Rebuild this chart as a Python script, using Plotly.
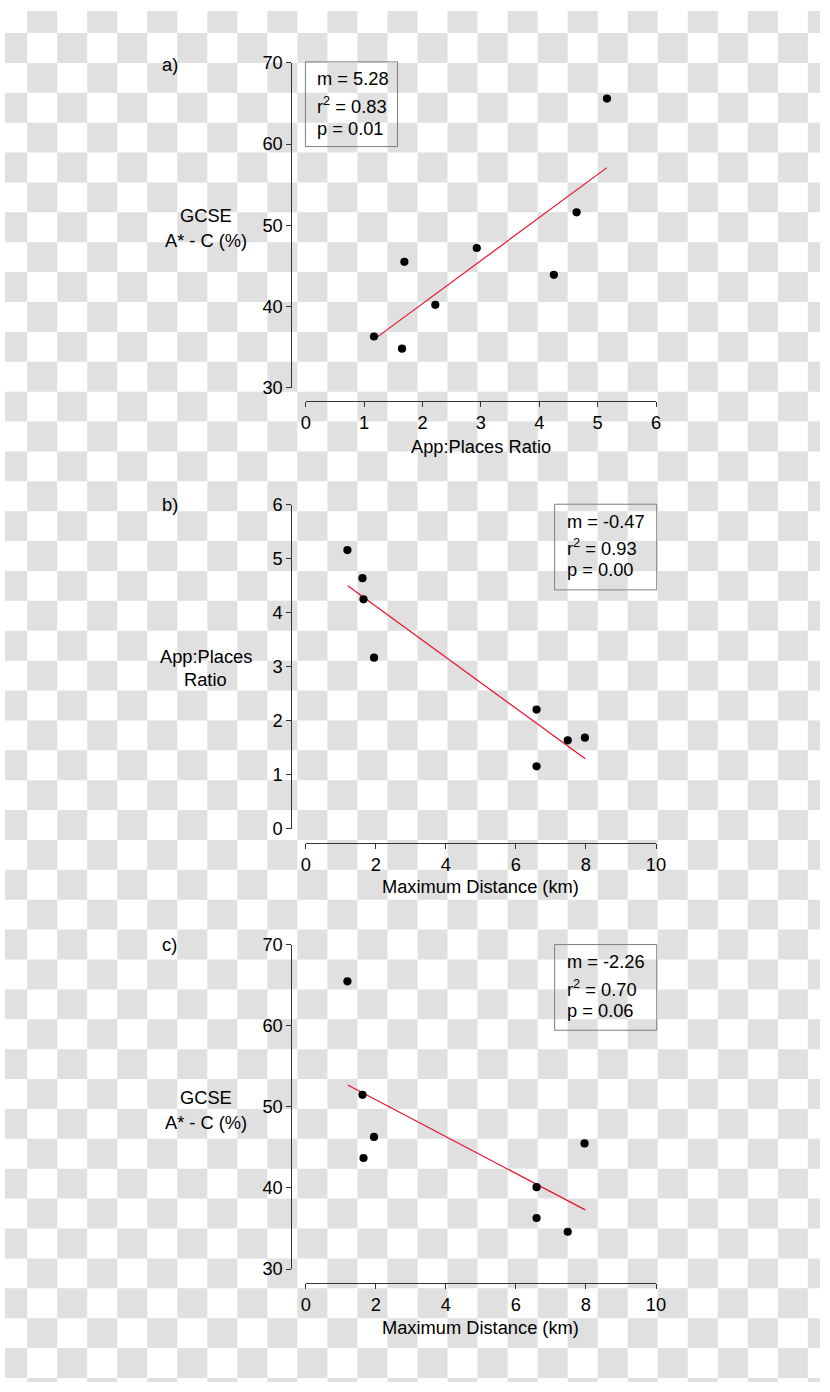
import plotly.graph_objects as go

# ---------------- data ----------------
ratio_a = [1.17, 1.65, 1.69, 2.22, 2.93, 4.25, 4.64, 5.16]
gcse_a = [36.3, 34.8, 45.5, 40.2, 47.2, 43.9, 51.6, 65.6]
fit_a_x = [1.2, 5.16]
fit_a_y = [36.1, 57.1]

dist_b = [1.19, 1.62, 1.65, 1.95, 6.59, 7.48, 7.97, 6.59]
ratio_b = [5.16, 4.64, 4.25, 3.17, 2.21, 1.64, 1.69, 1.16]
fit_b_x = [1.2, 7.98]
fit_b_y = [4.50, 1.30]

dist_c = [1.19, 1.62, 1.95, 1.65, 6.59, 6.59, 7.48, 7.96]
gcse_c = [65.5, 51.5, 46.3, 43.7, 40.1, 36.3, 34.6, 45.5]
fit_c_x = [1.2, 7.98]
fit_c_y = [52.7, 37.3]

stats_a = ["m = 5.28", "r<sup>2</sup> = 0.83", "p = 0.01"]
stats_b = ["m = -0.47", "r<sup>2</sup> = 0.93", "p = 0.00"]
stats_c = ["m = -2.26", "r<sup>2</sup> = 0.70", "p = 0.06"]

W, H = 830, 1392
MARGIN = 8  # default page body margin around the figure
SX = W / (W + 2 * MARGIN)
SY = H / (H + 2 * MARGIN)
FONT = "Liberation Sans, Arial, sans-serif"
FS = 18 / ((SX + SY) / 2)


def px(x):
    """final picture x-pixel -> paper fraction"""
    return (x / SX - MARGIN) / W


def py(y):
    """final picture y-pixel -> paper fraction"""
    return 1 - (y / SY - MARGIN) / H


fig = go.Figure()

# checkerboard background (30 px squares in the final picture)
parts = []
S = 30
for r in range(H // S + 1):
    for c in range(W // S + 1):
        if (r + c) % 2 == 1:
            x0, x1 = px(c * S), px((c + 1) * S)
            y0, y1 = py(r * S), py((r + 1) * S)
            x0, x1 = max(x0, 0), min(x1, 1)
            y0, y1 = min(y0, 1), max(y1, 0)
            if x1 <= x0 or y0 <= y1:
                continue
            parts.append(f"M{x0:.5f},{y0:.5f}H{x1:.5f}V{y1:.5f}H{x0:.5f}Z")
shapes = [dict(type="path", xref="paper", yref="paper", path="".join(parts),
               fillcolor="#e0e0e0", line=dict(width=0), layer="below")]

panels = [
    dict(x=ratio_a, y=gcse_a, fx=fit_a_x, fy=fit_a_y, xr=[0, 6], xd=1, yr=[30, 70], yd=10,
         ytop=60, ybot=386, xaxis_y=399, stats=stats_a,
         box=(308, 59, 400, 144), stat_y=[76, 102.5, 126], stat_x=318,
         lab="a)", lab_y=61.5, ytitle=["GCSE", "A* - C (%)"], yt_y=[213, 238],
         xtitle="App:Places Ratio", xt_y=445),
    dict(x=dist_b, y=ratio_b, fx=fit_b_x, fy=fit_b_y, xr=[0, 10], xd=2, yr=[0, 6], yd=1,
         ytop=503.5, ybot=829, xaxis_y=842.7, stats=stats_b,
         box=(557, 503, 659, 589), stat_y=[520, 546, 568.5], stat_x=567,
         lab="b)", lab_y=503.5, ytitle=["App:Places", "Ratio"], yt_y=[655.5, 679],
         xtitle="Maximum Distance (km)", xt_y=886.5),
    dict(x=dist_c, y=gcse_c, fx=fit_c_x, fy=fit_c_y, xr=[0, 10], xd=2, yr=[30, 70], yd=10,
         ytop=945.3, ybot=1270.7, xaxis_y=1285, stats=stats_c,
         box=(557, 945, 659, 1031), stat_y=[962.5, 988.3, 1011.3], stat_x=567,
         lab="c)", lab_y=945, ytitle=["GCSE", "A* - C (%)"], yt_y=[1099, 1124],
         xtitle="Maximum Distance (km)", xt_y=1329),
]

annotations = []
AX_L, AX_R = 308.3, 658.3
for i, p in enumerate(panels, start=1):
    xa = "x" if i == 1 else f"x{i}"
    ya = "y" if i == 1 else f"y{i}"
    fig.add_trace(go.Scatter(x=p["fx"], y=p["fy"], mode="lines",
                             line=dict(color="#e8102a", width=1.2),
                             xaxis=xa, yaxis=ya, showlegend=False, hoverinfo="skip"))
    fig.add_trace(go.Scatter(x=p["x"], y=p["y"], mode="markers",
                             marker=dict(color="black", size=8.2),
                             xaxis=xa, yaxis=ya, showlegend=False))
    common = dict(showline=True, linecolor="#333333", linewidth=1, ticks="outside",
                  ticklen=5, tickcolor="#333333", tickwidth=1, showgrid=False,
                  zeroline=False, tickfont=dict(family=FONT, size=FS, color="black"),
                  anchor="free", fixedrange=True)
    fig.update_layout(**{
        ("xaxis" if i == 1 else f"xaxis{i}"): dict(
            domain=[px(AX_L), px(AX_R)], range=p["xr"], dtick=p["xd"], tick0=0,
            position=py(p["xaxis_y"]), **common),
        ("yaxis" if i == 1 else f"yaxis{i}"): dict(
            domain=[py(p["ybot"]), py(p["ytop"])], range=p["yr"], dtick=p["yd"], tick0=0,
            position=px(294), **common),
    })
    bx0, by0, bx1, by1 = p["box"]
    shapes.append(dict(type="rect", xref="paper", yref="paper",
                       x0=px(bx0), x1=px(bx1), y0=py(by0), y1=py(by1),
                       line=dict(color="#7f7f7f", width=1), fillcolor="rgba(0,0,0,0)"))
    for txt, yy in zip(p["stats"], p["stat_y"]):
        annotations.append(dict(text=txt, xref="paper", yref="paper", x=px(p["stat_x"]),
                                y=py(yy), xanchor="left", yanchor="middle", showarrow=False,
                                font=dict(family=FONT, size=FS, color="black")))
    annotations.append(dict(text=p["lab"], xref="paper", yref="paper", x=px(163),
                            y=py(p["lab_y"]), xanchor="left", yanchor="middle",
                            showarrow=False, font=dict(family=FONT, size=FS, color="black")))
    for txt, yy in zip(p["ytitle"], p["yt_y"]):
        annotations.append(dict(text=txt, xref="paper", yref="paper", x=px(208.5),
                                y=py(yy), xanchor="center", yanchor="middle",
                                showarrow=False, font=dict(family=FONT, size=FS, color="black")))
    annotations.append(dict(text=p["xtitle"], xref="paper", yref="paper", x=px(483.3),
                            y=py(p["xt_y"]), xanchor="center", yanchor="middle",
                            showarrow=False, font=dict(family=FONT, size=FS, color="black")))

fig.update_layout(width=W, height=H, margin=dict(l=0, r=0, t=0, b=0, pad=0),
                  paper_bgcolor="white", plot_bgcolor="rgba(0,0,0,0)",
                  shapes=shapes, annotations=annotations, showlegend=False,
                  font=dict(family=FONT, size=FS, color="black"))

fig.write_html("out.html")
